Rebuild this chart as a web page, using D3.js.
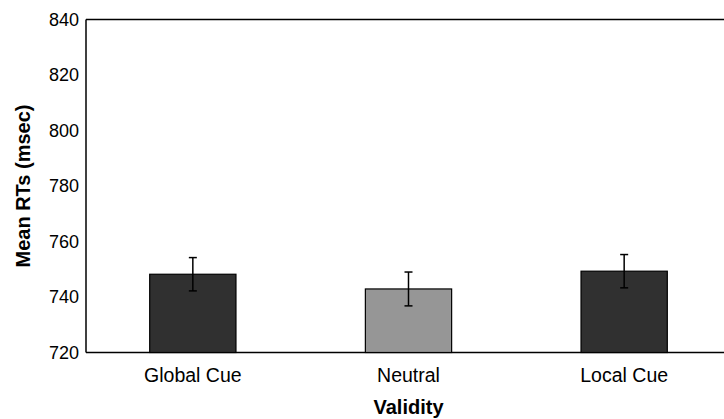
<!DOCTYPE html>
<html>
<head>
<meta charset="utf-8">
<script src="https://cdn.jsdelivr.net/npm/d3@7"></script>
<style>
  html, body { margin: 0; padding: 0; background: #fff; }
  svg { display: block; }
  text { font-family: "Liberation Sans", Arial, sans-serif; fill: #000; }
</style>
</head>
<body>
<svg id="chart" width="724" height="419"></svg>
<script>
const categories = ["Global Cue", "Neutral", "Local Cue"];
const means = [748.2, 742.9, 749.3];
const errors = [6.0, 6.1, 6.0];
const colors = ["#303030", "#969696", "#303030"];
const yTicks = [720, 740, 760, 780, 800, 820, 840];
const xTitle = "Validity";
const yTitle = "Mean RTs (msec)";

const W = 724, H = 419;
const margin = { left: 86, top: 19.5, bottom: 352.5 };
const svg = d3.select("#chart");

const y = d3.scaleLinear().domain([720, 840]).range([margin.bottom, margin.top]);
const x = d3.scaleBand().domain(categories).range([85, 732]).padding(0);
const barW = x.bandwidth() * 0.4;

// frame lines: left axis, top, bottom
const frame = svg.append("g").attr("stroke", "#000").attr("stroke-width", 1.5).attr("fill", "none");
frame.append("line").attr("x1", 86).attr("x2", 86).attr("y1", y(840)).attr("y2", y(720));
frame.append("line").attr("x1", 86).attr("x2", W).attr("y1", y(840)).attr("y2", y(840));

// bars
svg.append("g").selectAll("rect").data(categories).join("rect")
  .attr("x", (d) => x(d) + x.bandwidth() / 2 - barW / 2)
  .attr("width", barW)
  .attr("y", (d, i) => y(means[i]))
  .attr("height", (d, i) => y(720) - y(means[i]))
  .attr("fill", (d, i) => colors[i])
  .attr("stroke", "#000").attr("stroke-width", 1.2);

frame.append("line").attr("x1", 86).attr("x2", W).attr("y1", y(720)).attr("y2", y(720));

// error bars
const eb = svg.append("g").attr("stroke", "#000").attr("stroke-width", 1.5);
categories.forEach((c, i) => {
  const cx = x(c) + x.bandwidth() / 2;
  eb.append("line").attr("x1", cx).attr("x2", cx).attr("y1", y(means[i] + errors[i])).attr("y2", y(means[i] - errors[i]));
  eb.append("line").attr("x1", cx - 4).attr("x2", cx + 4).attr("y1", y(means[i] + errors[i])).attr("y2", y(means[i] + errors[i]));
  eb.append("line").attr("x1", cx - 4).attr("x2", cx + 4).attr("y1", y(means[i] - errors[i])).attr("y2", y(means[i] - errors[i]));
});

// y axis tick labels
const yAxis = d3.axisLeft(y).tickValues(yTicks).tickSize(0).tickPadding(7);
const gy = svg.append("g").attr("transform", "translate(86,0)").call(yAxis);
gy.select(".domain").remove();
gy.selectAll("text").style("font-size", "18px").style("font-family", "'Liberation Sans', Arial, sans-serif").attr("fill", "#000");

// x axis labels
const xAxis = d3.axisBottom(x).tickSize(0).tickPadding(16);
const gx = svg.append("g").attr("transform", `translate(0,${y(720)})`).call(xAxis);
gx.select(".domain").remove();
gx.selectAll("text").style("font-size", "19.5px").style("font-family", "'Liberation Sans', Arial, sans-serif").attr("fill", "#000");

// titles
svg.append("text").attr("x", 408.5).attr("y", 414).attr("text-anchor", "middle")
  .style("font-size", "20px").style("font-weight", "bold").text(xTitle);
svg.append("text").attr("transform", `translate(30,${(y(720)+y(840))/2}) rotate(-90)`)
  .attr("text-anchor", "middle").style("font-size", "20px").style("font-weight", "bold").text(yTitle);
</script>
</body>
</html>
